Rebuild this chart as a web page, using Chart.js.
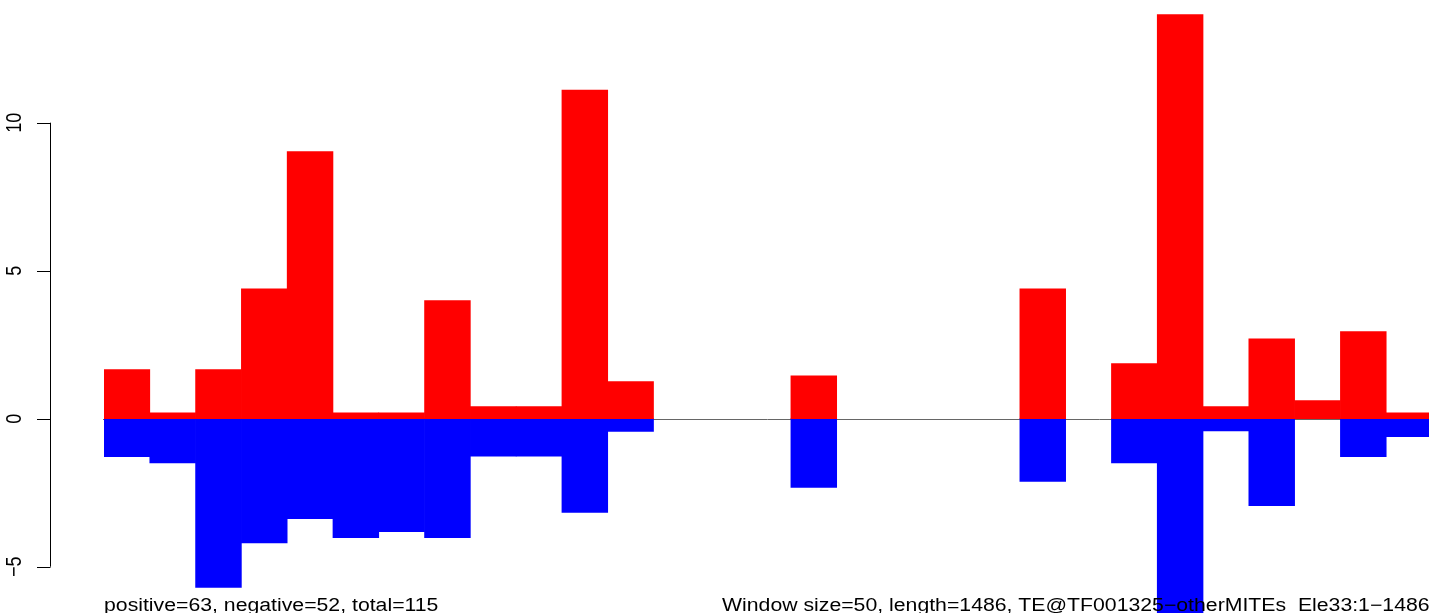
<!DOCTYPE html>
<html>
<head>
<meta charset="utf-8">
<script src="https://cdn.jsdelivr.net/npm/chart.js@4.4.1/dist/chart.umd.min.js"></script>
<style>
  html, body { margin: 0; padding: 0; background: #fff; overflow: hidden; }
</style>
</head>
<body>
<canvas id="windows_bar_chart" width="1432" height="613"></canvas>
<script>
// one bar per 50bp window, positive strand up (red), negative strand down (blue)
const windowLabels = ["1","2","3","4","5","6","7","8","9","10","11","12","13","14","15",
                      "16","17","18","19","20","21","22","23","24","25","26","27","28","29"]
const positiveValues = [1.66, 0.2, 1.66, 4.39, 9.02, 0.2, 0.2, 3.99, 0.41, 0.41, 11.1, 1.25, 0, 0, 0,
                        1.45, 0, 0, 0, 0, 4.39, 0, 1.86, 13.65, 0.41, 2.7, 0.61, 2.94, 0.2]
const negativeValues = [-1.28, -1.49, -5.7, -4.2, -3.38, -4.02, -3.82, -4.02, -1.27, -1.27, -3.17, -0.43, 0, 0, 0,
                        -2.32, 0, 0, 0, 0, -2.12, 0, -1.49, -7.0, -0.41, -2.94, 0, -1.28, -0.61]
const yTicks = [-5, 0, 5, 10]
const footLeft = "positive=63, negative=52, total=115"
const footRight = "Window size=50, length=1486, TE@TF001325\u2212otherMITEs_Ele33:1\u22121486"

const textStretch = 1.18   // reference text is a bit wider than tall
const fontSpec = "18px 'Liberation Sans', Arial, sans-serif"

// empty windows get no bar at all (otherwise the inflated 0-height bar shows as a line)
function dropZeros(values) {
    return values.map(v => v === 0 ? null : v)
}

// R style axis on the left + zero line + the two captions at the bottom
const rStylePlugin = {
    id: "rStyle",
    beforeDatasetsDraw(chart) {
        const ctx = chart.ctx
        const y = chart.scales.y
        const area = chart.chartArea
        let y0 = Math.round(y.getPixelForValue(0)) + 0.5
        ctx.save()
        ctx.strokeStyle = "#666666"
        ctx.lineWidth = 1
        ctx.beginPath()
        ctx.moveTo(area.left - 1, y0)
        ctx.lineTo(area.right, y0)
        ctx.stroke()
        ctx.restore()
    },
    afterDatasetsDraw(chart) {
        const ctx = chart.ctx
        const y = chart.scales.y
        const axisX = 50.5
        ctx.save()
        ctx.strokeStyle = "#000"
        ctx.lineWidth = 1
        ctx.beginPath()
        ctx.moveTo(axisX, y.getPixelForValue(yTicks[0]))
        ctx.lineTo(axisX, y.getPixelForValue(yTicks[yTicks.length - 1]))
        for (let i = 0; i < yTicks.length; i++) {
            let py = Math.round(y.getPixelForValue(yTicks[i])) + 0.5
            ctx.moveTo(axisX, py)
            ctx.lineTo(37, py)
        }
        ctx.stroke()

        // rotated tick labels
        ctx.fillStyle = "#000"
        ctx.font = fontSpec
        ctx.textAlign = "center"
        ctx.textBaseline = "alphabetic"
        for (let i = 0; i < yTicks.length; i++) {
            let py = y.getPixelForValue(yTicks[i])
            let label = yTicks[i] < 0 ? "\u2212" + Math.abs(yTicks[i]) : String(yTicks[i])
            ctx.save()
            ctx.translate(21, py)
            ctx.scale(textStretch, 1)
            ctx.rotate(-Math.PI / 2)
            ctx.fillText(label, 0, 0)
            ctx.restore()
        }

        // captions under the plot, drawn over the bars like in the original
        ctx.textAlign = "left"
        ctx.save()
        ctx.translate(104, 611)
        ctx.scale(textStretch, 1)
        ctx.fillText(footLeft, 0, 0)
        ctx.restore()
        ctx.save()
        ctx.translate(722, 611)
        ctx.scale(textStretch, 1)
        ctx.fillText(footRight, 0, 0)
        ctx.restore()
        ctx.restore()
    }
}

const barData = {
    labels: windowLabels,
    datasets: [{
        label: "positive",
        data: dropZeros(positiveValues),
        backgroundColor: "#ff0000",
        borderWidth: 0,
        barPercentage: 1,
        categoryPercentage: 1
    }, {
        label: "negative",
        data: dropZeros(negativeValues),
        backgroundColor: "#0000ff",
        borderWidth: 0,
        barPercentage: 1,
        categoryPercentage: 1
    }]
}

const config = {
    type: "bar",
    data: barData,
    options: {
        responsive: false,
        animation: false,
        devicePixelRatio: 1,
        layout: { padding: { left: 104, right: 0, top: 0, bottom: 0 } },
        plugins: {
            legend: { display: false },
            tooltip: { enabled: false },
            title: { display: false }
        },
        scales: {
            x: { stacked: true, display: false },
            y: { stacked: true, display: false, min: -6.564, max: 14.145 }
        }
    },
    plugins: [rStylePlugin]
}

const myChart = new Chart(document.getElementById("windows_bar_chart"), config)
</script>
</body>
</html>
